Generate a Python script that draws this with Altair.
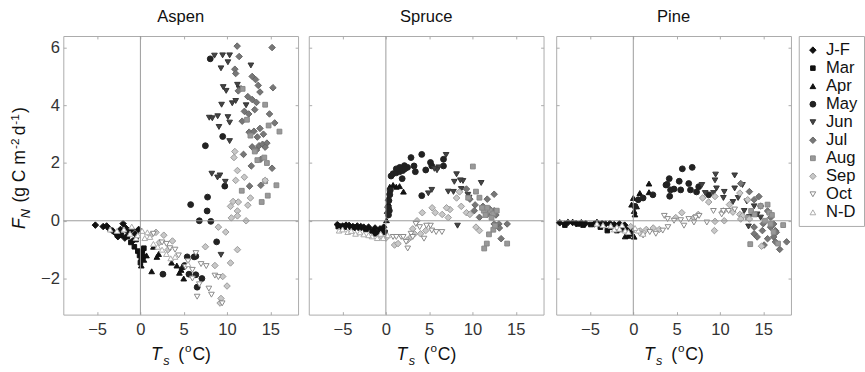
import altair as alt
import pandas as pd

FONT = "Liberation Sans"

MONTHS = ["J-F", "Mar", "Apr", "May", "Jun", "Jul", "Aug", "Sep", "Oct", "N-D"]
SHAPES = ["diamond", "square", "triangle-up", "circle", "triangle-down",
          "diamond", "square", "diamond", "triangle-down", "triangle-up"]
FILLS = ["#111111", "#111111", "#111111", "#222222", "#444444",
         "#777777", "#999999", "#c8c8c8", "#ffffff", "#ffffff"]
STROKES = ["#111111", "#111111", "#111111", "#222222", "#333333",
           "#666666", "#888888", "#999999", "#888888", "#aaaaaa"]
SIZES = [45, 22, 34, 36, 34, 45, 24, 45, 34, 34]

X_TICKS = [-5, 0, 5, 10, 15]
Y_TICKS = [-2, 0, 2, 4, 6]
X_DOMAIN = [-8.9, 18.2]
Y_DOMAIN = [-3.25, 6.4]
ZERO = [0]

# (Ts, FN) pairs
ASPEN = {
    "J-F": [(-5.2, -0.15), (-4.3, -0.2), (-3.9, -0.18), (-3.6, -0.28), (-3.2, -0.35), (-2.8, -0.45),
            (-2.3, -0.3), (-2.0, -0.1), (-1.7, -0.25), (-1.4, -0.4), (-1.0, -0.3), (-0.6, -0.45),
            (-0.2, -0.3), (-2.6, -0.55), (-1.8, -0.6), (-0.9, -0.7)],
    "Mar": [(-1.5, -0.55), (-1.1, -0.75), (-0.7, -0.9), (-0.3, -1.05), (-0.1, -1.2), (0.0, -1.45),
            (0.2, -1.1), (0.4, -0.95), (-0.5, -0.65), (0.1, -1.3), (-2.2, -0.5), (0.3, -1.25)],
    "Apr": [(0.1, -1.55), (0.4, -1.35), (0.7, -1.2), (1.3, -1.75), (1.9, -1.25), (2.1, -1.15),
            (3.6, -1.45), (4.2, -1.55), (4.5, -1.8), (4.8, -1.6), (5.0, -2.0), (4.7, -1.7),
            (0.2, -1.0), (1.5, -0.9)],
    "May": [(2.6, -1.85), (5.1, -1.55), (5.4, -1.25), (5.6, -1.85), (6.2, -1.25), (6.4, -1.87),
            (6.55, -2.3), (7.1, -2.0), (6.8, 0.0), (5.8, 0.56), (7.7, 0.34), (7.75, 0.82),
            (8.13, -0.02), (8.8, -0.73), (9.74, 1.2), (7.5, 2.6), (9.5, 2.92), (8.06, 5.61),
            (6.4, -1.23)],
    "Jun": [(8.55, 5.72), (9.49, 5.73), (10.3, 5.73), (9.3, 5.28), (10.1, 5.49), (12.75, 5.38),
            (9.56, 4.63), (9.9, 4.5), (11.2, 4.71), (11.4, 4.58), (9.37, 4.02), (10.6, 4.07),
            (11.0, 4.15), (8.92, 3.62), (7.95, 3.57), (8.3, 3.55), (10.1, 3.59), (10.3, 3.4),
            (9.07, 3.25), (10.3, 2.76), (8.24, 1.63), (9.18, 1.57), (8.9, 1.5), (9.8, 1.35),
            (9.3, -1.18), (12.2, 4.0)],
    "Jul": [(11.17, 6.05), (15.2, 6.0), (11.4, 5.69), (10.9, 5.25), (11.0, 5.1), (12.9, 5.0),
            (13.3, 4.89), (13.6, 4.69), (13.8, 4.46), (15.3, 4.61), (12.4, 4.3), (12.9, 4.2),
            (13.4, 4.1), (13.2, 3.85), (12.5, 3.7), (12.0, 3.79), (14.9, 3.7), (15.5, 3.39),
            (11.75, 3.45), (12.55, 3.07), (13.1, 3.1), (13.8, 3.2), (14.2, 3.0), (13.5, 2.9),
            (12.9, 2.56), (13.7, 2.6), (14.1, 2.65), (14.6, 2.69), (13.4, 2.45), (14.4, 2.55),
            (11.9, 2.3), (13.9, 2.13), (12.8, 1.9), (15.2, 1.82), (13.9, 1.23), (12.6, 1.2),
            (11.3, 4.5)],
    "Aug": [(11.8, 4.57), (14.4, 4.02), (12.7, 2.95), (16.05, 3.09), (14.3, 2.19), (14.6, 2.0),
            (13.5, 2.1), (14.4, 1.37), (15.7, 1.23), (11.7, 1.04), (14.7, 0.87), (14.0, 0.65),
            (13.2, 2.4), (12.3, 3.5), (14.8, 3.3)],
    "Sep": [(10.8, 2.19), (10.9, 2.4), (11.2, 1.74), (11.0, 1.4), (12.0, 1.51), (14.4, 1.4),
            (12.7, 0.79), (10.7, 0.67), (11.3, 0.65), (11.2, 0.34), (10.4, 0.5), (12.4, 0.54),
            (11.2, 0.17), (12.2, 0.0), (10.5, 0.1), (9.0, -0.22), (9.85, -0.39), (7.5, -0.9),
            (10.4, -1.46), (11.2, -1.0), (10.0, -2.26), (9.3, -2.69), (9.5, -1.93), (8.6, -1.55),
            (1.8, -0.4), (2.7, -0.5), (3.7, -0.7), (3.2, -1.0), (2.2, -0.75), (1.2, -0.5),
            (9.2, -2.85)],
    "Oct": [(1.5, -0.45), (2.5, -0.75), (3.4, -0.95), (4.4, -1.2), (5.5, -1.4), (6.0, -1.7),
            (6.4, -1.12), (7.0, -1.5), (7.6, -1.57), (6.0, -2.0), (6.55, -2.63), (7.9, -2.35),
            (8.2, -2.56), (8.6, -1.9), (9.0, -1.95), (9.44, -2.86), (5.2, -1.6), (3.0, -0.8),
            (4.0, -1.0), (6.8, -2.2)],
    "N-D": [(-3.5, -0.3), (-2.7, -0.35), (-1.9, -0.3), (-1.2, -0.45), (-0.5, -0.6), (0.5, -0.6),
            (1.1, -0.56), (1.5, -0.8), (2.5, -1.0), (3.0, -1.15), (4.0, -1.25), (-1.0, -0.2),
            (0.2, -0.35), (-0.3, -0.5), (0.8, -0.4), (2.0, -0.9), (5.5, -1.5), (3.5, -1.3)],
}

SPRUCE = {
    "J-F": [(-5.6, -0.13), (-5.0, -0.18), (-4.6, -0.15), (-4.25, -0.16), (-3.8, -0.2), (-3.3, -0.18),
            (-2.9, -0.2), (-2.56, -0.22), (-2.0, -0.22), (-1.25, -0.25), (-0.68, -0.28), (-0.25, -0.22),
            (-5.3, -0.2), (-3.6, -0.24)],
    "Mar": [(-5.5, -0.2), (-4.8, -0.22), (-4.0, -0.22), (-3.0, -0.25), (-2.3, -0.3), (-1.6, -0.35),
            (-1.0, -0.4), (-0.5, -0.35), (-0.1, -0.4), (-1.3, -0.45)],
    "Apr": [(0.07, 0.02), (0.15, 0.34), (0.26, 0.79), (0.4, 1.0), (0.45, 1.18), (0.83, 1.24),
            (1.2, 1.18), (1.58, 1.2), (2.03, 1.01), (0.2, 0.55), (0.3, 0.6)],
    "May": [(0.3, 0.45), (0.35, 0.7), (0.45, 0.9), (0.5, 1.05), (0.3, 0.2), (0.4, 0.35), (0.6, 1.55),
            (0.83, 1.63), (1.2, 1.66), (1.58, 1.7), (1.95, 1.74), (2.14, 1.91), (2.5, 1.85),
            (2.9, 2.19), (3.25, 1.9), (3.4, 1.7), (4.14, 2.3), (4.6, 1.76), (5.15, 2.02), (5.3, 1.9),
            (6.65, 2.13), (6.65, 1.9), (1.88, 1.46), (4.14, 0.87), (2.2, 1.8), (1.6, 1.85), (1.2, 1.8)],
    "Jun": [(6.95, 2.28), (6.1, 1.85), (5.9, 1.75), (8.16, 1.61), (8.9, 1.38), (7.9, 1.35),
            (8.6, 1.4), (11.0, 1.31), (7.2, 1.01), (8.27, -0.17), (5.3, 1.07), (4.9, 0.95),
            (7.8, 1.0), (9.47, 0.9), (9.6, 0.8), (8.7, 1.1), (5.6, 1.8)],
    "Jul": [(12.5, 0.92), (11.7, 0.75), (9.7, 0.75), (10.2, 0.35), (10.8, 0.12), (12.5, 0.35),
            (12.7, 0.2), (11.7, 0.22), (13.05, -0.11), (12.5, -0.11), (13.1, -0.25), (14.0, -0.11),
            (13.3, -0.62), (12.7, -0.17), (11.2, 0.5), (12.0, 0.4), (9.3, 1.1), (10.3, 0.55)],
    "Aug": [(10.04, 1.88), (10.4, 1.01), (9.5, 0.8), (10.8, 0.8), (11.3, 0.35), (12.05, 0.35),
            (12.4, 0.25), (12.8, 0.35), (11.1, 0.45), (11.7, 0.45), (12.4, -0.31), (11.9, -0.47),
            (12.6, -0.17), (11.65, -0.79), (11.35, -0.96), (14.0, -0.79), (11.5, 0.2), (12.2, 0.1)],
    "Sep": [(4.2, 0.28), (5.34, 0.45), (5.7, 0.28), (6.5, 0.22), (7.4, 0.39), (8.16, 0.79),
            (8.5, 1.0), (8.7, 0.5), (7.2, 0.11), (7.0, 0.45), (9.3, 0.28), (9.7, 0.22),
            (10.4, -0.22), (10.8, -0.34), (3.1, -0.28), (2.9, -0.56), (4.0, -0.45), (1.0, -0.84),
            (1.4, -0.79), (2.5, -0.67), (3.3, -0.45), (4.6, -0.34), (0.0, -0.6), (-0.5, -0.55),
            (3.6, 0.0)],
    "Oct": [(0.83, -0.56), (1.77, -0.56), (2.33, -0.73), (2.52, -0.96), (3.46, -0.11), (3.9, -0.22),
            (5.15, -0.17), (5.3, -0.34), (6.47, -0.39), (4.7, -0.17), (2.9, -0.45), (3.1, -0.56),
            (2.0, -0.56), (1.2, -0.56), (4.4, -0.62), (5.8, -0.39)],
    "N-D": [(-5.4, -0.34), (-4.4, -0.39), (-3.5, -0.45), (-2.56, -0.47), (-1.6, -0.54), (-1.0, -0.6),
            (-0.3, -0.6), (-5.0, -0.3), (-4.0, -0.35), (-3.0, -0.4), (-2.0, -0.5), (0.2, -0.5),
            (-0.6, -0.45)],
}

PINE = {
    "J-F": [(-8.49, -0.07), (-7.9, -0.11), (-7.55, -0.06), (-7.0, -0.06), (-6.6, -0.09), (-6.0, -0.07),
            (-5.5, -0.09), (-4.5, -0.11), (-4.2, -0.06), (-3.6, -0.09), (-3.2, -0.11), (-2.7, -0.09),
            (-2.2, -0.13), (-1.6, -0.1), (-1.0, -0.15)],
    "Mar": [(-7.9, -0.15), (-6.4, -0.11), (-4.9, -0.13), (-3.8, -0.22), (-3.0, -0.34), (-2.5, -0.22),
            (-1.9, -0.34), (-1.3, -0.3), (-0.6, -0.3), (-0.2, -0.35), (-5.8, -0.15)],
    "Apr": [(-0.94, -0.54), (-0.6, -0.52), (-0.2, -0.45), (0.19, 0.22), (0.1, 0.34), (0.38, 0.5),
            (0.75, 0.96), (1.81, 0.99), (1.81, 1.29), (-0.2, 0.56), (0.0, 0.79), (0.1, -0.55)],
    "May": [(0.57, 0.73), (1.13, 0.79), (2.26, 0.9), (3.77, 1.24), (4.15, 1.46), (4.7, 1.1),
            (5.3, 1.37), (5.47, 1.07), (3.9, 1.26), (4.3, 1.07), (5.66, 1.8), (6.8, 1.85),
            (6.4, 1.29), (7.55, 1.18), (6.6, 1.07), (8.7, 0.9), (7.3, 1.0), (4.2, 0.85), (0.2, 0.5)],
    "Jun": [(7.92, 1.24), (8.3, 0.96), (9.43, 1.4), (9.6, 1.12), (9.25, 0.96), (10.4, 0.79),
            (11.7, 1.57), (12.6, 1.24), (11.7, 1.12), (12.1, 0.79), (11.5, 0.65), (13.1, 0.67),
            (13.95, 0.5), (13.4, 0.13), (12.8, 0.34), (14.3, 0.22), (14.7, 0.11), (9.5, 1.6),
            (10.5, 1.0), (13.3, -0.2)],
    "Jul": [(12.4, 1.29), (13.4, 1.01), (13.95, 0.73), (14.5, 0.84), (14.7, 0.51), (15.5, 0.34),
            (15.85, 0.11), (16.2, -0.11), (16.4, -0.34), (15.85, -0.22), (13.95, -0.22), (13.95, -0.45),
            (14.3, -0.56), (14.9, -0.34), (15.5, -0.62), (16.2, -0.56), (16.9, -0.99), (17.7, -0.73),
            (16.4, -0.73), (15.1, -0.84), (15.0, -0.1), (16.5, -0.4)],
    "Aug": [(13.6, 0.34), (14.7, 0.51), (15.5, 0.56), (15.7, 0.28), (15.85, -0.11), (17.3, -0.15),
            (16.2, -0.39), (13.5, -0.81), (16.7, -0.79), (14.0, 0.22), (13.2, 0.11), (15.2, 0.0),
            (16.0, 0.2)],
    "Sep": [(8.0, 0.79), (9.43, 0.84), (10.4, 0.34), (8.7, 0.65), (11.1, 0.56), (12.3, 0.96),
            (13.2, 0.73), (12.3, 0.22), (12.6, 0.17), (12.4, 0.06), (13.4, 0.06), (9.43, -0.02),
            (10.5, 0.0), (7.5, 0.22), (7.0, 0.11), (5.6, 0.28), (4.9, 0.11), (9.36, -0.34),
            (14.8, -0.88), (11.5, 0.3), (0.8, -0.35), (1.5, -0.3), (2.3, -0.25), (3.0, -0.3),
            (-0.3, -0.2)],
    "Oct": [(3.58, 0.17), (3.96, 0.06), (4.7, 0.0), (5.47, 0.02), (5.85, -0.17), (6.4, 0.06),
            (7.2, 0.11), (7.6, 0.17), (8.49, -0.06), (7.0, -0.06), (9.25, 0.34), (10.2, 0.22),
            (10.4, 0.34), (11.0, 0.34), (11.7, 0.39), (4.0, -0.22), (3.4, -0.34), (1.9, -0.39),
            (2.6, -0.45), (1.13, -0.51), (0.75, -0.45)],
    "N-D": [(-2.6, -0.17), (-1.9, -0.22), (-1.3, -0.15), (-0.94, -0.34), (-0.57, -0.39), (0.57, -0.34),
            (1.13, -0.45), (-2.2, -0.3), (-1.6, -0.28), (0.2, -0.25), (-3.5, -0.15), (-4.2, -0.1)],
}

SPECIES = ["Aspen", "Spruce", "Pine"]
SPECIES_DATA = [ASPEN, SPRUCE, PINE]

W, H = 241, 286
ONE = alt.Data(values=[{"k": 1}])


def to_frame(d):
    rows = []
    for i, m in enumerate(MONTHS):
        for t, f in d[m]:
            rows.append({"T": t, "F": f, "month": m, "order": i})
    return pd.DataFrame(rows)


def txt(text, x, y, size, italic=False, angle=0):
    return alt.Chart(ONE).mark_text(
        text=text, fontSize=size, font=FONT, color="#111111",
        fontStyle="italic" if italic else "normal",
        angle=angle, align="left", baseline="alphabetic",
    ).encode(x=alt.value(x), y=alt.value(y))


legend = alt.Legend(title=None)
xs = alt.Scale(domain=X_DOMAIN, nice=False, zero=False)
ys = alt.Scale(domain=Y_DOMAIN, nice=False, zero=False)


def panel(name, d, first):
    df = to_frame(d)
    xaxis = alt.Axis(values=X_TICKS, title=None, grid=False, domain=False, tickSize=3, offset=-3,
                     tickColor="#aaaaaa", labelPadding=7, labelFontSize=17, labelColor="#333333",
                     labelFont=FONT)
    yaxis = alt.Axis(values=Y_TICKS, title=None, grid=False, domain=False, tickSize=3, offset=-3,
                     tickColor="#aaaaaa", labels=first, labelPadding=4, labelFontSize=17,
                     labelColor="#333333", labelFont=FONT)
    top_axis = alt.Axis(orient="top", values=X_TICKS, title=None, grid=False, domain=False,
                        labels=False, tickSize=3, offset=-3, tickColor="#aaaaaa")
    right_axis = alt.Axis(orient="right", values=Y_TICKS, title=None, grid=False, domain=False,
                          labels=False, tickSize=3, offset=-3, tickColor="#aaaaaa")

    zero_df = pd.DataFrame({"z": ZERO})
    vline = alt.Chart(zero_df).mark_rule(color="#999999", strokeWidth=1).encode(
        x=alt.X("z:Q", scale=xs, axis=top_axis))
    hline = alt.Chart(zero_df).mark_rule(color="#999999", strokeWidth=1).encode(
        y=alt.Y("z:Q", scale=ys, axis=right_axis))

    pts = alt.Chart(df).mark_point(opacity=1, fillOpacity=1, strokeOpacity=1, strokeWidth=1).encode(
        x=alt.X("T:Q", scale=xs, axis=xaxis),
        y=alt.Y("F:Q", scale=ys, axis=yaxis),
        shape=alt.Shape("month:N", scale=alt.Scale(domain=MONTHS, range=SHAPES), legend=legend),
        fill=alt.Fill("month:N", scale=alt.Scale(domain=MONTHS, range=FILLS), legend=legend),
        stroke=alt.Stroke("month:N", scale=alt.Scale(domain=MONTHS, range=STROKES), legend=legend),
        size=alt.Size("month:N", scale=alt.Scale(type="ordinal", domain=MONTHS, range=SIZES),
                      legend=legend),
        order=alt.Order("order:Q"),
    )

    layers = [pts, vline, hline]
    # x-axis title: T_s (oC)
    x0 = 90
    layers += [
        txt("T", x0, H + 47, 18, italic=True),
        txt("s", x0 + 12.5, H + 52, 13, italic=True),
        txt("(", x0 + 28, H + 47, 18),
        txt("o", x0 + 35, H + 38, 12),
        txt("C)", x0 + 42.5, H + 47, 18),
    ]
    if first:
        bx = -39
        layers += [
            txt("F", bx, 198, 18, italic=True, angle=270),
            txt("N", bx + 5, 187, 13, italic=True, angle=270),
            txt("(g C m", bx, 171, 18, angle=270),
            txt("-2", bx - 7, 116, 12, angle=270),
            txt("d", bx, 102, 18, angle=270),
            txt("-1", bx - 7, 91, 12, angle=270),
            txt(")", bx, 79, 18, angle=270),
        ]

    return alt.layer(*layers).resolve_axis(x="independent", y="independent").properties(
        width=W, height=H,
        title=alt.TitleParams(name, fontSize=17, font=FONT, fontWeight="normal", color="#111111",
                              offset=10),
    )


panels = [panel(n, d, i == 0) for i, (n, d) in enumerate(zip(SPECIES, SPECIES_DATA))]

chart = alt.hconcat(*panels, spacing=9).resolve_scale(
    shape="shared", fill="shared", stroke="shared", size="shared"
).configure_view(stroke="#aaaaaa", strokeWidth=1).configure_legend(
    orient="right", offset=6, padding=6, strokeColor="#aaaaaa", labelFontSize=17, labelFont=FONT,
    labelColor="#111111", symbolStrokeWidth=1, rowPadding=0.5, labelOffset=5,
).properties(padding={"left": 8, "top": 3, "right": 0, "bottom": 0}, background="white")

chart.save("out.html", embed_options={"renderer": "svg", "actions": False})
